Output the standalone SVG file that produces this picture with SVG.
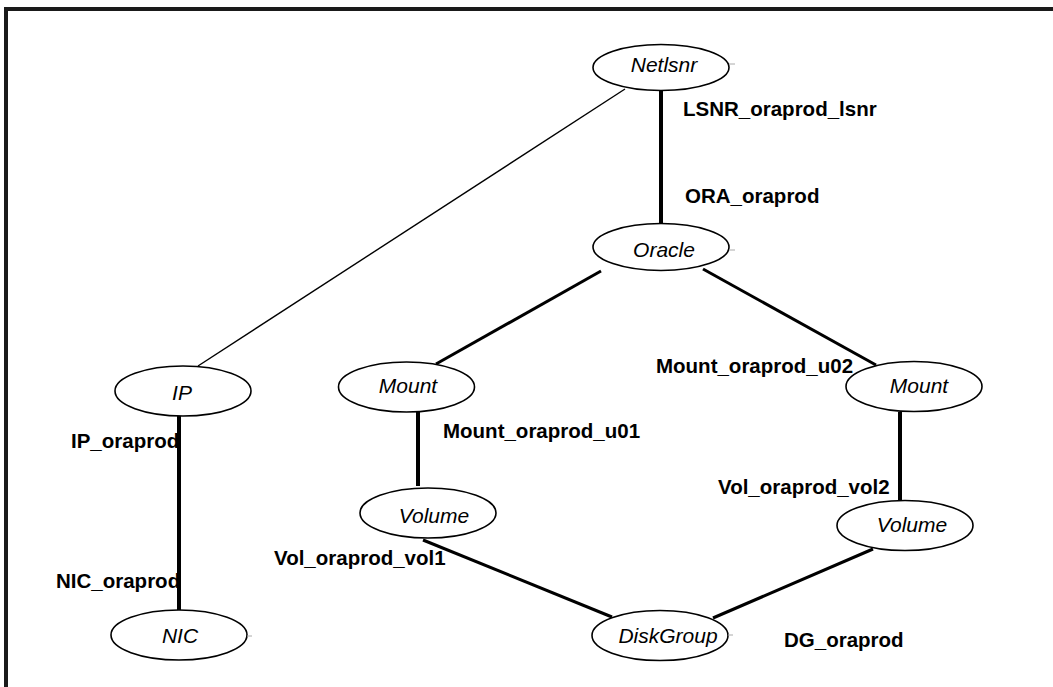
<svg xmlns="http://www.w3.org/2000/svg" width="1053" height="687" viewBox="0 0 1053 687">
<style>
.node ellipse{fill:#fff;stroke:#000;stroke-width:1.6}
.node text{font-family:"Liberation Sans",Arial,sans-serif;font-style:italic;font-size:21px;fill:#000;text-anchor:middle}
.tick{stroke:#aaa;stroke-width:1}
.thick{stroke:#000;stroke-width:4;fill:none}
.med{stroke:#000;stroke-width:3;fill:none}
.thin{stroke:#000;stroke-width:1.4;fill:none}
.lbl{font-family:"Liberation Sans",Arial,sans-serif;font-weight:bold;font-size:20.5px;fill:#000}
</style>
<rect x="0" y="0" width="1053" height="687" fill="#fff"/>
<g id="frame" fill="#1a1a1a">
<rect x="4" y="7" width="1049" height="4"/>
<rect x="4" y="7" width="4" height="680"/>
</g>
<g id="connectors">
<line class="thick" x1="661" y1="90" x2="661" y2="224"/>
<line class="thin" x1="625" y1="89" x2="198" y2="366"/>
<line class="med" x1="601" y1="271" x2="436" y2="364"/>
<line class="med" x1="703" y1="269" x2="876" y2="365"/>
<line class="thick" x1="418" y1="411" x2="418" y2="486"/>
<line class="med" x1="423" y1="540" x2="612" y2="617"/>
<line class="thick" x1="900" y1="412" x2="900" y2="500"/>
<line class="med" x1="873" y1="549" x2="713" y2="618"/>
<line class="thick" x1="179" y1="415" x2="179" y2="610"/>
</g>
<g id="node-netlsnr" class="node"><ellipse cx="661" cy="67.5" rx="68" ry="23"/><line class="tick" x1="729" y1="64" x2="735" y2="64"/><text x="664" y="72">Netlsnr</text></g>
<g id="node-oracle" class="node"><ellipse cx="661" cy="247" rx="68" ry="23.5"/><line class="tick" x1="729" y1="250" x2="735" y2="250"/><text x="664" y="257">Oracle</text></g>
<g id="node-ip" class="node"><ellipse cx="183" cy="391" rx="68" ry="25"/><text x="182" y="400">IP</text></g>
<g id="node-nic" class="node"><ellipse cx="179" cy="635" rx="68" ry="25"/><line class="tick" x1="247" y1="636" x2="252" y2="636"/><text x="180" y="643">NIC</text></g>
<g id="node-mount1" class="node"><ellipse cx="406.5" cy="387" rx="68" ry="25"/><text x="408" y="393">Mount</text></g>
<g id="node-volume1" class="node"><ellipse cx="428" cy="513" rx="68" ry="25"/><text x="434" y="523">Volume</text></g>
<g id="node-mount2" class="node"><ellipse cx="914" cy="386.5" rx="68" ry="25"/><text x="919" y="393">Mount</text></g>
<g id="node-volume2" class="node"><ellipse cx="905" cy="525.5" rx="68" ry="25"/><text x="912" y="532">Volume</text></g>
<g id="node-diskgroup" class="node"><ellipse cx="660" cy="635.5" rx="68" ry="25"/><line class="tick" x1="728" y1="635" x2="733" y2="635"/><text x="668" y="643">DiskGroup</text></g>
<g id="labels">
<text class="lbl" x="683" y="116">LSNR_oraprod_lsnr</text>
<text class="lbl" x="685" y="203">ORA_oraprod</text>
<text class="lbl" x="656" y="373">Mount_oraprod_u02</text>
<text class="lbl" x="443" y="438">Mount_oraprod_u01</text>
<text class="lbl" x="71" y="448">IP_oraprod</text>
<text class="lbl" x="718" y="494">Vol_oraprod_vol2</text>
<text class="lbl" x="274" y="565">Vol_oraprod_vol1</text>
<text class="lbl" x="56" y="588">NIC_oraprod</text>
<text class="lbl" x="784" y="647">DG_oraprod</text>
</g>
</svg>
